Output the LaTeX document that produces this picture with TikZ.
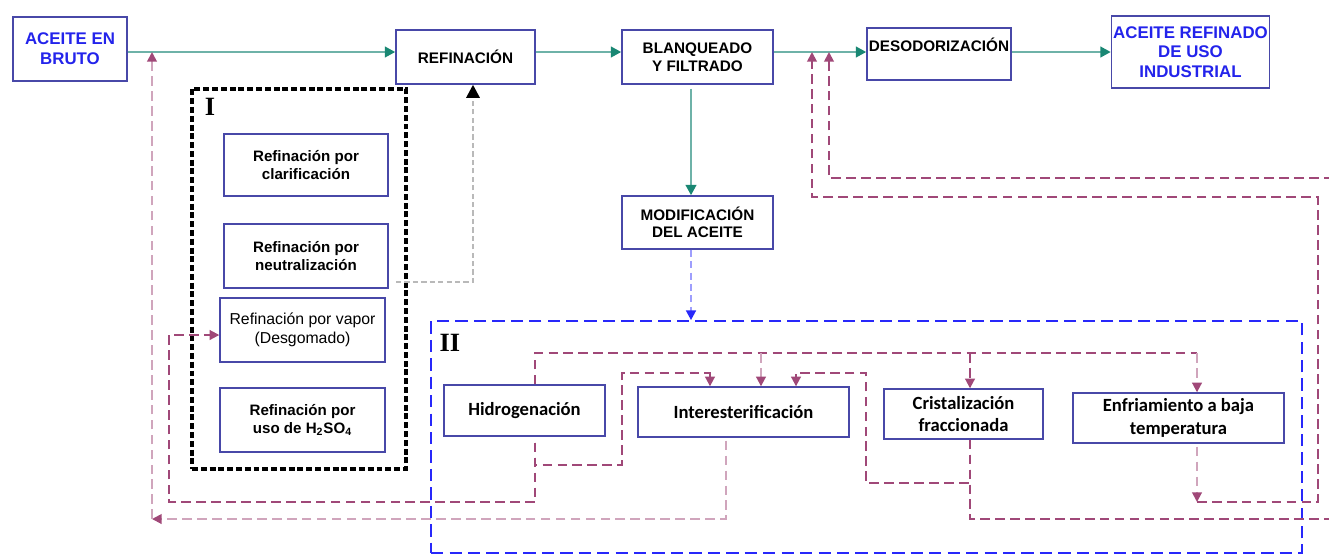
\documentclass[tikz,border=0pt]{standalone}
\usepackage{fontspec}
\setmainfont{Liberation Sans}
\newfontfamily\calibri{Carlito}
\newfontfamily\romanI{Liberation Serif}
\usetikzlibrary{calc,arrows.meta}

\definecolor{boxblue}{RGB}{72,72,168}
\definecolor{txtblue}{RGB}{35,35,235}
\definecolor{tealline}{RGB}{110,178,168}
\definecolor{tealtip}{RGB}{25,135,115}
\definecolor{plum}{RGB}{160,72,120}
\definecolor{rose}{RGB}{208,165,188}
\definecolor{dashblue}{RGB}{40,40,250}

\begin{document}
\begin{tikzpicture}[x=0.02cm,y=-0.02cm,
		proc/.style={draw=boxblue,line width=0.8pt,align=center,inner sep=0pt},
		topbox/.style={proc,font=\fontsize{8.7}{10}\selectfont\bfseries},
		endbox/.style={proc,text=txtblue,font=\fontsize{9.6}{11.2}\selectfont\bfseries},
		refbox/.style={proc,font=\fontsize{8.6}{10}\selectfont\bfseries},
		refplain/.style={proc,font=\fontsize{9}{11}\selectfont},
		modbox/.style={proc,font=\calibri\fontsize{10.6}{13}\selectfont\bfseries},
		roman/.style={font=\romanI\bfseries\fontsize{15}{15}\selectfont},
		flow/.style={draw=tealline,line width=1.5pt,-{Triangle[length=6pt,width=6pt,color=tealtip]}},
		back/.style={draw=plum,line width=1.1pt,dash pattern=on 5.5pt off 3pt},
		pale/.style={back,draw=rose},
		backtip/.style={-{Triangle[length=5.5pt,width=5.5pt,color=plum]}},
		hint/.style={draw=gray!55,line width=1.5pt,dash pattern=on 3pt off 1.8pt,
			-{Triangle[length=7.5pt,width=7.5pt,color=black]}},
		down/.style={draw=dashblue!45,line width=1.3pt,dash pattern=on 4pt off 2.5pt,
			-{Triangle[length=5.5pt,width=5.5pt,color=dashblue]}}]
		\useasboundingbox (0,0) rectangle (1329,556);
		% groups
		\node[draw=black,line width=1.8pt,dash pattern=on 3.4pt off 1.6pt,
			minimum width=4.28cm,minimum height=7.6cm] (boxI) at (299,279) {};
		\node[draw=dashblue,line width=1pt,dash pattern=on 7pt off 3.5pt,
			minimum width=17.42cm,minimum height=4.64cm] (boxII) at (866.5,437) {};
		\node[roman] (labI) at (210,107) {I};
		\node[roman] (labII) at (450,343) {II};
		% main line
		\node[endbox,minimum width=2.28cm,minimum height=1.28cm] (brute) at (70,49) {ACEITE EN\\BRUTO};
		\node[topbox,minimum width=2.78cm,minimum height=1.08cm] (refin) at (465.5,57) {REFINACIÓN};
		\node[topbox,minimum width=3.02cm,minimum height=1.08cm] (blanq) at (697.5,57) {BLANQUEADO\\Y FILTRADO};
		\node[topbox,minimum width=2.88cm,minimum height=1.04cm,text depth=10pt] (desod) at (939,54) {DESODORIZACIÓN};
		\node[endbox,minimum width=3.16cm,minimum height=1.44cm] (final) at (1190.5,52) {ACEITE REFINADO\\DE USO\\INDUSTRIAL};
		\node[topbox,minimum width=3.02cm,minimum height=1.06cm] (modif) at (697.5,222.5) {MODIFICACIÓN\\DEL ACEITE};
		% refining methods
		\node[refbox,minimum width=3.28cm,minimum height=1.24cm] (clar) at (306,165) {Refinación por\\clarificación};
		\node[refbox,minimum width=3.28cm,minimum height=1.28cm] (neut) at (306,256) {Refinación por\\neutralización};
		\node[refplain,minimum width=3.3cm,minimum height=1.28cm] (vapor) at (302.5,330) {Refinación por vapor\\(Desgomado)};
		\node[refbox,minimum width=3.3cm,minimum height=1.28cm] (acid) at (302.5,420) {Refinación por\\uso de H\textsubscript{2}SO\textsubscript{4}};
		% modifications
		\node[modbox,minimum width=3.22cm,minimum height=1.02cm] (hidro) at (524.5,410.5) {Hidrogenación};
		\node[modbox,minimum width=4.22cm,minimum height=1cm] (inter) at (743.5,412) {Interesterificación};
		\node[modbox,minimum width=3.18cm,minimum height=1cm] (crist) at (963.5,414) {Cristalización\\fraccionada};
		\node[modbox,minimum width=4.22cm,minimum height=1cm] (enfri) at (1178.5,418) {Enfriamiento a baja\\temperatura};
		% coordinates
		\coordinate (axis) at (0,52);
		\coordinate (bS) at ($(blanq.south)+(-6.5,4)$);
		\coordinate (mS) at ($(modif.south)+(-6.5,0)$);
		\coordinate (gS) at (396,282);
		\coordinate (retA) at (152,519);
		\coordinate (hS) at ($(hidro.south)+(10.5,6)$);
		\coordinate (hL) at (169,502);
		\coordinate (hM) at (622,465);
		\coordinate (iA) at (710,373);
		\coordinate (topR) at (1197,353);
		\coordinate (dInt) at (761,353);
		\coordinate (dCri) at (970,353);
		\coordinate (cS) at ($(crist.south)+(6.5,0)$);
		\coordinate (cA) at (866,483);
		\coordinate (cB) at (796,373);
		\coordinate (rA) at (1345,519);
		\coordinate (rB) at (829,178);
		\coordinate (eA) at (1197,502);
		\coordinate (eB) at (1318,197);
		\coordinate (eC) at (812,52);
		% solid arrows
		\foreach \a/\b in {brute/refin,refin/blanq,blanq/desod,desod/final}
		\draw[flow] (\a.east |- axis) -- (\b.west |- axis);
		\draw[flow] (bS) -- (bS |- modif.north);
		\draw[down] (mS) -- (mS |- boxII.north);
		\draw[hint] (gS) -| ($(refin.south)+(7.5,0)$);
		% dashed returns
		\draw[pale,backtip] ($(inter.south)+(-17.5,3)$) |- (retA);
		\draw[pale,backtip] (retA) -- (retA |- axis);
		\draw[back,backtip] (hS) |- (hL) |- ($(vapor.west)+(0,5)$);
		\draw[back,backtip] (hS) |- (hM) |- (iA) -- (iA |- inter.north);
		\draw[back] (hidro.north -| hS) |- (topR);
		\foreach \p/\n/\s in {dInt/inter/pale,dCri/crist/back,topR/enfri/pale}
		\draw[\s,backtip] (\p) -- (\p |- \n.north);
		\draw[back,backtip] (cS) |- (cA) |- (cB) -- (cB |- inter.north);
		\draw[back,backtip] (cS) |- (rA) |- (rB) -- (rB |- axis);
		\draw[pale,backtip] ($(enfri.south -| eA)+(0,3)$) -- (eA);
		\draw[back,backtip] (eA) -| (eB) -| (eC);
	\end{tikzpicture}
\end{document}
